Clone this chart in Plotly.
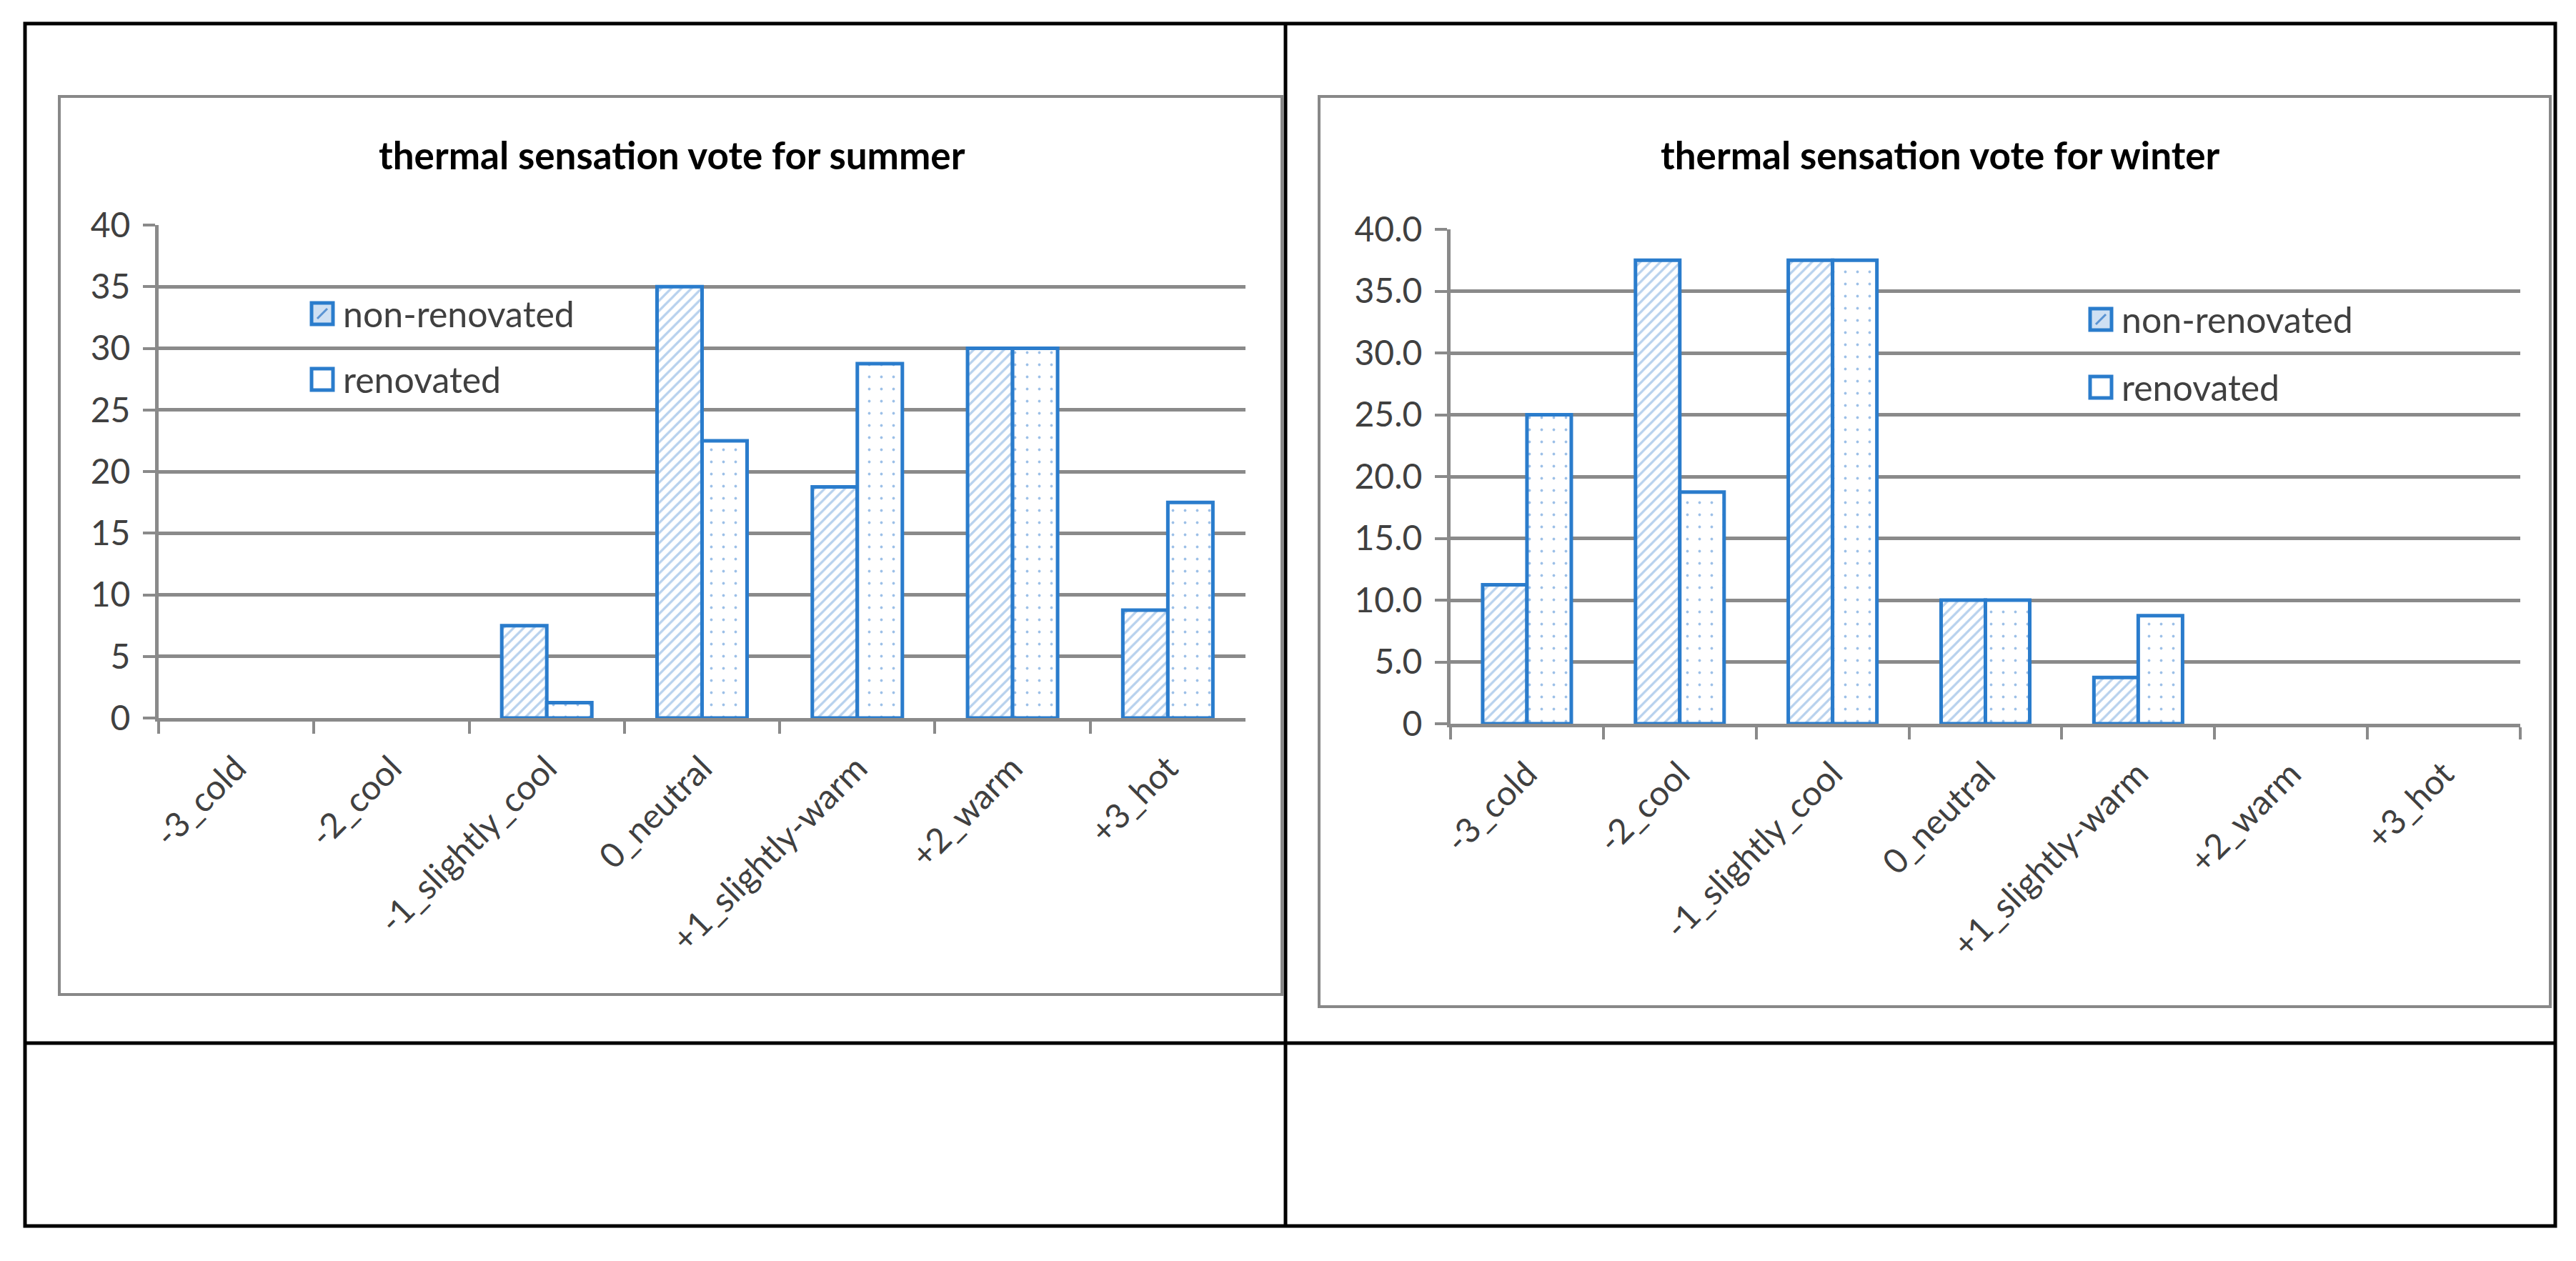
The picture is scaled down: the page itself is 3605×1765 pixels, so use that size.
import plotly.graph_objects as go

W, H = 3605, 1765

# ---------------- data ----------------
categories = ["-3_cold", "-2_cool", "-1_slightly_cool", "0_neutral",
              "+1_slightly-warm", "+2_warm", "+3_hot"]
series_names = ["non-renovated", "renovated"]
summer_non_renovated = [0, 0, 7.5, 35, 18.75, 30, 8.75]
summer_renovated = [0, 0, 1.25, 22.5, 28.75, 30, 17.5]
winter_non_renovated = [11.25, 37.5, 37.5, 10, 3.75, 0, 0]
winter_renovated = [25, 18.75, 37.5, 10, 8.75, 0, 0]
summer_title = "thermal sensation vote for summer"
winter_title = "thermal sensation vote for winter"
y_tickvals = [0, 5, 10, 15, 20, 25, 30, 35, 40]
summer_ticktext = ["0", "5", "10", "15", "20", "25", "30", "35", "40"]
winter_ticktext = ["0", "5.0", "10.0", "15.0", "20.0", "25.0", "30.0", "35.0", "40.0"]

# ---------------- style ----------------
FONT = "Lato"
BLUE = "#2a7ccc"
GRID = "#8a8a8a"
TXT = "#404040"


def px(x):
    return x / W


def py(y):
    return 1 - y / H


fig = go.Figure()

patterns = [
    dict(shape="/", fgcolor="#6fa3dc", bgcolor="white", size=10, solidity=0.32),
    dict(shape=".", fgcolor="#3c82d0", bgcolor="white", size=17, solidity=0.04),
]

for (xa, ya, vals_list) in [("x", "y", [summer_non_renovated, summer_renovated]),
                            ("x2", "y2", [winter_non_renovated, winter_renovated])]:
    for name, vals, pat in zip(series_names, vals_list, patterns):
        fig.add_trace(go.Bar(
            x=categories, y=vals, name=name, xaxis=xa, yaxis=ya,
            showlegend=False,
            marker=dict(color="white", pattern=pat,
                        line=dict(color=BLUE,
                                  width=[5 if v > 0 else 0 for v in vals])),
        ))

axis_common = dict(showline=True, linecolor=GRID, linewidth=5, automargin=False,
                   ticks="outside", ticklen=17, tickwidth=4, tickcolor=GRID,
                   tickfont=dict(family=FONT, size=48, color=TXT))

fig.update_layout(
    width=W, height=H, margin=dict(l=0, r=0, t=0, b=0, pad=0, autoexpand=False),
    paper_bgcolor="white", plot_bgcolor="white",
    barmode="group", bargap=0.42, bargroupgap=0,
    xaxis=dict(domain=[px(222), px(1743)], anchor="y", type="category",
               tickson="boundaries", tickangle=-45, showgrid=False,
               range=[-0.5, 6.5], ticklabelstandoff=18, **axis_common),
    yaxis=dict(domain=[py(1005), py(315)], anchor="x", range=[0, 40],
               tickvals=y_tickvals, ticktext=summer_ticktext,
               showgrid=True, gridcolor=GRID, gridwidth=5, zeroline=False,
               ticklabelstandoff=8, **axis_common),
    xaxis2=dict(domain=[px(2030), px(3527)], anchor="y2", type="category",
                tickson="boundaries", tickangle=-45, showgrid=False,
                range=[-0.5, 6.5], ticklabelstandoff=18, **axis_common),
    yaxis2=dict(domain=[py(1013), py(321)], anchor="x2", range=[0, 40],
                tickvals=y_tickvals, ticktext=winter_ticktext,
                showgrid=True, gridcolor=GRID, gridwidth=5, zeroline=False,
                ticklabelstandoff=8, **axis_common),
)

shapes = []
# table borders
BLK = dict(color="black", width=5)
shapes.append(dict(type="rect", xref="paper", yref="paper",
                   x0=px(35), x1=px(3576), y0=py(1716), y1=py(33), line=BLK))
shapes.append(dict(type="line", xref="paper", yref="paper",
                   x0=px(1799), x1=px(1799), y0=py(1716), y1=py(33), line=BLK))
shapes.append(dict(type="line", xref="paper", yref="paper",
                   x0=px(35), x1=px(3576), y0=py(1460), y1=py(1460), line=BLK))
# chart frames
FR = dict(color="#888888", width=4)
shapes.append(dict(type="rect", xref="paper", yref="paper", layer="below",
                   x0=px(83), x1=px(1794), y0=py(1392), y1=py(135), line=FR))
shapes.append(dict(type="rect", xref="paper", yref="paper", layer="below",
                   x0=px(1846), x1=px(3569), y0=py(1409), y1=py(135), line=FR))

annotations = []
# titles
for title, cx in [(summer_title, 941), (winter_title, 2715)]:
    annotations.append(dict(xref="paper", yref="paper", x=px(cx), y=py(216),
                            text=title, showarrow=False, xanchor="center",
                            yanchor="middle",
                            font=dict(family=FONT, size=53, color="black",
                                      weight="bold")))

# legends (swatch + label)
legend_specs = [(436, [439, 531]), (2925, [447, 542])]
for lx, rows in legend_specs:
    for i, (name, cy) in enumerate(zip(series_names, rows)):
        s = 30
        fill = "#cfe0f3" if i == 0 else "white"
        shapes.append(dict(type="rect", xref="paper", yref="paper",
                           x0=px(lx), x1=px(lx + s), y0=py(cy + s / 2), y1=py(cy - s / 2),
                           fillcolor=fill, line=dict(color=BLUE, width=5)))
        if i == 0:
            shapes.append(dict(type="line", xref="paper", yref="paper",
                               x0=px(lx + 8), x1=px(lx + s - 8),
                               y0=py(cy + s / 2 - 8), y1=py(cy - s / 2 + 8),
                               line=dict(color="#5a93d3", width=3)))
        annotations.append(dict(xref="paper", yref="paper", x=px(lx + s + 12), y=py(cy),
                                text=name, showarrow=False, xanchor="left",
                                yanchor="middle",
                                font=dict(family=FONT, size=50, color=TXT)))

fig.update_layout(shapes=shapes, annotations=annotations)

fig.write_html("out.html", config={"displayModeBar": False},
               post_script="document.body.style.margin='0px';")
